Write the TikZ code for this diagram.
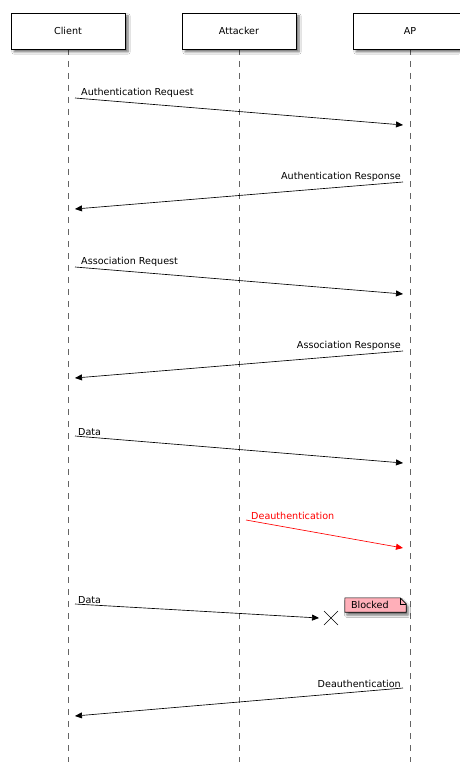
\documentclass[tikz,border=0pt]{standalone}
\usepackage{fontspec}
\setmainfont{DejaVu Sans}
\usetikzlibrary{arrows.meta,positioning,shadows.blur,calc}
\definecolor{lifegray}{RGB}{100,100,100}
\definecolor{notepink}{RGB}{255,175,185}

\begin{document}
\begin{tikzpicture}[x=1pt,y=-1pt,
        font=\fontsize{9.6}{11}\selectfont,
        actor/.style={draw, fill=white, line width=0.7pt, minimum width=114pt, minimum height=36pt, inner sep=0pt,
            blur shadow={shadow xshift=3pt, shadow yshift=-3pt, shadow blur steps=6, shadow opacity=55}},
        lifeline/.style={lifegray, line width=0.9pt, dash pattern=on 6pt off 6pt},
        msg/.style={line width=0.65pt, -{Triangle[length=7pt,width=6pt]}},
        msglabel/.style={inner sep=1pt}]
        % Umgebung
        \useasboundingbox[fill=white] (0, 0) rectangle (459, 762);

        % Lebenslinien
        \coordinate (clientend) at (68, 762);
        \coordinate (attackerend) at (239, 762);
        \coordinate (apend) at (410, 762);
        \draw[lifeline] (68, 49) -- (clientend);
        \draw[lifeline] (239, 49) -- (attackerend);
        \draw[lifeline] (410, 49) -- (apend);

        % Kästchen
        \node[actor] (client) at (68, 31) {Client};
        \node[actor] (attacker) at (239, 31) {Attacker};
        \node[actor] (ap) at (410, 31) {AP};

        % Endpunkte
        \coordinate (m1a) at (75, 98);   \coordinate (m1b) at (403, 125);
        \coordinate (m2a) at (403, 182); \coordinate (m2b) at (75, 209);
        \coordinate (m3a) at (75, 267);  \coordinate (m3b) at (403, 294);
        \coordinate (m4a) at (403, 351); \coordinate (m4b) at (75, 378);
        \coordinate (m5a) at (75, 436);  \coordinate (m5b) at (403, 463);
        \coordinate (m6a) at (246, 520); \coordinate (m6b) at (403, 548);
        \coordinate (m7a) at (75, 604);  \coordinate (m7b) at (319, 618);
        \coordinate (m8a) at (403, 688); \coordinate (m8b) at (75, 716);

        % Pfeile
        \draw[msg] (m1a) -- (m1b);
        \draw[msg] (m2a) -- (m2b);
        \draw[msg] (m3a) -- (m3b);
        \draw[msg] (m4a) -- (m4b);
        \draw[msg] (m5a) -- (m5b);
        \draw[msg, red] (m6a) -- (m6b);
        \draw[msg] (m7a) -- (m7b);
        \draw[msg] (m8a) -- (m8b);

        % Texte
        \node[msglabel, anchor=south west] (l1) at ($(m1a)+(5,1)$) {Authentication Request};
        \node[msglabel, anchor=south east] (l2) at ($(m2a)+(-1,1)$) {Authentication Response};
        \node[msglabel, anchor=south west] (l3) at ($(m3a)+(5,1)$) {Association Request};
        \node[msglabel, anchor=south east] (l4) at ($(m4a)+(-1,1)$) {Association Response};
        \node[msglabel, anchor=south west] (l5) at ($(m5a)+(2,1)$) {Data};
        \node[msglabel, anchor=south west, red] (l6) at ($(m6a)+(4,1)$) {Deauthentication};
        \node[msglabel, anchor=south west] (l7) at ($(m7a)+(2,1)$) {Data};
        \node[msglabel, anchor=south east] (l8) at ($(m8a)+(-1,1)$) {Deauthentication};

        % Kreuz
        \coordinate (cross) at (331, 618);
        \draw[line width=0.6pt] ($(cross)+(-7,-7)$) -- ($(cross)+(7,7)$)
                                ($(cross)+(-7,7)$) -- ($(cross)+(7,-7)$);

        % Notiz
        \node[inner sep=0pt, minimum width=61pt, minimum height=14pt] (blocked) at (375.5, 605) {};
        \filldraw[fill=notepink, line width=0.6pt,
            blur shadow={shadow xshift=2pt, shadow yshift=-3pt, shadow blur steps=5, shadow opacity=55}]
            (blocked.north west) -- ($(blocked.north east)+(-6,0)$) -- ($(blocked.north east)+(0,6)$)
            -- (blocked.south east) -- (blocked.south west) -- cycle;
        \draw[line width=0.6pt] ($(blocked.north east)+(-6,0)$) -- ($(blocked.north east)+(-6,6)$) -- ($(blocked.north east)+(0,6)$);
        \node[anchor=west, inner sep=0pt] (blockedtext) at ($(blocked.west)+(6,0)$) {Blocked};

    \end{tikzpicture}
\end{document}
